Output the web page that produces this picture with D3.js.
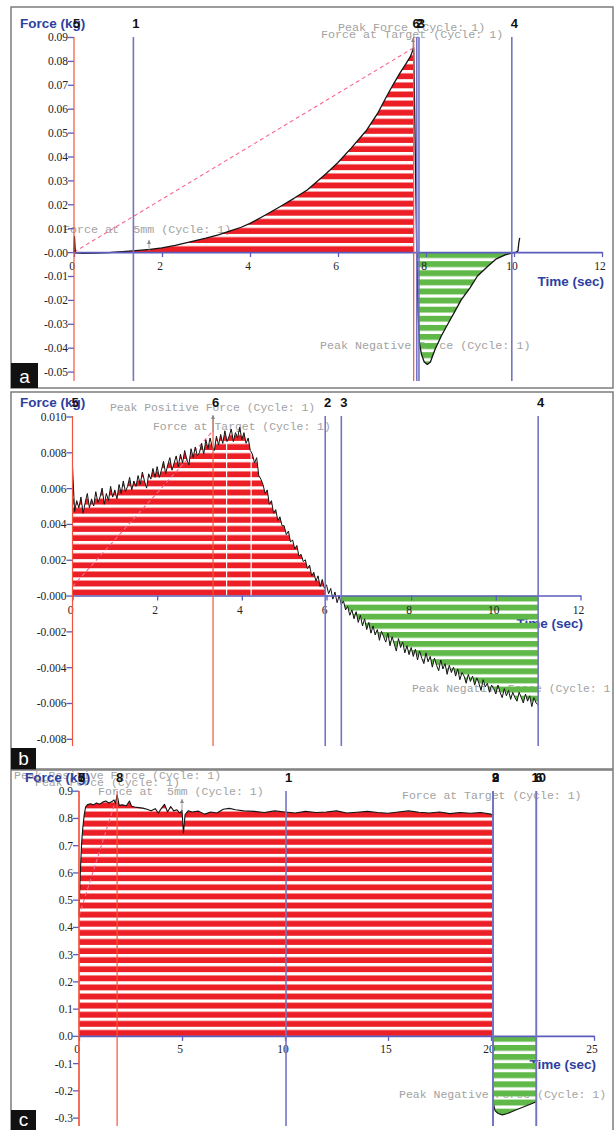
<!DOCTYPE html>
<html><head><meta charset="utf-8">
<script src="https://cdn.jsdelivr.net/npm/d3@7"></script>
<style>
html,body{margin:0;padding:0;background:#fff;}
svg{display:block;}
text.note{white-space:pre;}
</style></head>
<body>
<svg id="c" width="616" height="1130"></svg>
<script>
// ---------------- DATA ----------------
// Panel a
const aTime = [0, 0.01, 0.03, 0.2, 0.5, 0.8, 1.1, 1.4, 1.73, 2.0, 2.3, 2.64, 3.0, 3.3, 3.55, 3.8, 4.0, 4.3, 4.68, 5.0,
  5.3, 5.74, 6.0, 6.3, 6.65, 6.9, 7.1, 7.25, 7.41, 7.55, 7.65, 7.72, 7.75, 7.79, 7.82, 7.85, 7.9, 7.96, 8.03, 8.1,
  8.2, 8.35, 8.5, 8.65, 8.8, 9.0, 9.17, 9.4, 9.6, 9.8, 9.95, 10.05, 10.09, 10.11, 10.13];
const aForce = [0, 0.0065, -0.0003, -0.0005, -0.0004, -0.0002, 0.0002, 0.0006, 0.0011, 0.0018, 0.0028, 0.0043, 0.0058, 0.0073, 0.0089, 0.0104, 0.012, 0.015, 0.019, 0.0225,
  0.026, 0.033, 0.0375, 0.0435, 0.051, 0.058, 0.065, 0.070, 0.075, 0.079, 0.082, 0.0855, 0.05, 0.0, -0.025, -0.038, -0.043, -0.046, -0.047, -0.046,
  -0.041, -0.035, -0.030, -0.025, -0.020, -0.015, -0.010, -0.006, -0.0028, -0.0012, -0.0004, 0.0, 0.0005, 0.004, 0.006];
const aYTicks = [0.09, 0.08, 0.07, 0.06, 0.05, 0.04, 0.03, 0.02, 0.01, 0, -0.01, -0.02, -0.03, -0.04, -0.05];
const aYLabels = ["0.09", "0.08", "0.07", "0.06", "0.05", "0.04", "0.03", "0.02", "0.01", "-0.00", "-0.01", "-0.02", "-0.03", "-0.04", "-0.05"];
const aXTicks = [0, 2, 4, 6, 8, 10, 12];
const aXLabels = ["0", "2", "4", "6", "8", "10", "12"];
const aCursorTimes = [0, 1.35, 7.72, 7.79, 7.84, 9.95];
const aCursorLabels = ["5", "1", "6", "2", "3", "4"];
const aCursorKinds = ["start", "cursor", "peak", "cursor", "cursor", "cursor"];

// Panel b (sampled every 0.05 s from 0 to 11.0 s)
const bTime = d3.range(221).map(i => +(i * 0.05).toFixed(2));
const bForce = [
  0.0072, 0.0047, 0.0053, 0.0049, 0.0055, 0.0046, 0.0052, 0.0057, 0.0049, 0.0054,
  0.0050, 0.0058, 0.0052, 0.0055, 0.0060, 0.0051, 0.0057, 0.0053, 0.0061, 0.0055,
  0.0059, 0.0054, 0.0062, 0.0057, 0.0064, 0.0058, 0.0061, 0.0066, 0.0059, 0.0064,
  0.0061, 0.0067, 0.0062, 0.0069, 0.0064, 0.0060, 0.0068, 0.0065, 0.0071, 0.0066,
  0.0072, 0.0066, 0.0070, 0.0075, 0.0068, 0.0073, 0.0077, 0.0070, 0.0074, 0.0078,
  0.0072, 0.0079, 0.0074, 0.0081, 0.0076, 0.0073, 0.0082, 0.0077, 0.0083, 0.0078,
  0.0080, 0.0085, 0.0079, 0.0087, 0.0082, 0.0088, 0.0083, 0.0081, 0.0089, 0.0084,
  0.0090, 0.0085, 0.0092, 0.0086, 0.0089, 0.0093, 0.0086, 0.0091, 0.0088, 0.0094,
  0.0087, 0.0091, 0.0085, 0.0088, 0.0081, 0.0079, 0.0074, 0.0077, 0.0067, 0.0065,
  0.0062, 0.0057, 0.0059, 0.0051, 0.0053, 0.0046, 0.0048, 0.0042, 0.0044, 0.0039,
  0.0039, 0.0034, 0.0036, 0.0030, 0.0031, 0.0026, 0.0028, 0.0022, 0.0023, 0.0019,
  0.0020, 0.0015, 0.0017, 0.0011, 0.0013, 0.0008, 0.0011, 0.0005, 0.0009, 0.0004,
  0.0006, 0.0001, 0.0004, -0.0002, 0.0002, -0.0004, 0.0000, -0.0005, -0.0003, -0.0008,
  -0.0006, -0.0011, -0.0008, -0.0013, -0.0009, -0.0015, -0.0011, -0.0017, -0.0013, -0.0019,
  -0.0015, -0.0021, -0.0017, -0.0022, -0.0019, -0.0025, -0.0020, -0.0023, -0.0026, -0.0021,
  -0.0028, -0.0023, -0.0027, -0.0031, -0.0024, -0.0029, -0.0026, -0.0032, -0.0028, -0.0033,
  -0.0029, -0.0034, -0.0030, -0.0036, -0.0031, -0.0035, -0.0038, -0.0032, -0.0037, -0.0034,
  -0.0040, -0.0035, -0.0039, -0.0042, -0.0036, -0.0041, -0.0038, -0.0044, -0.0039, -0.0043,
  -0.0040, -0.0045, -0.0041, -0.0047, -0.0043, -0.0045, -0.0049, -0.0044, -0.0048, -0.0045,
  -0.0050, -0.0046, -0.0049, -0.0053, -0.0047, -0.0051, -0.0049, -0.0054, -0.0050, -0.0052,
  -0.0055, -0.0050, -0.0054, -0.0057, -0.0052, -0.0056, -0.0053, -0.0058, -0.0054, -0.0057,
  -0.0059, -0.0054, -0.0057, -0.0060, -0.0055, -0.0059, -0.0056, -0.0062, -0.0057, -0.0060,
  -0.0061];
const bYTicks = [0.010, 0.008, 0.006, 0.004, 0.002, 0, -0.002, -0.004, -0.006, -0.008];
const bYLabels = ["0.010", "0.008", "0.006", "0.004", "0.002", "-0.000", "-0.002", "-0.004", "-0.006", "-0.008"];
const bXTicks = [0, 2, 4, 6, 8, 10, 12];
const bXLabels = ["0", "2", "4", "6", "8", "10", "12"];
const bCursorTimes = [0, 3.32, 5.97, 6.35, 11.0];
const bCursorLabels = ["5", "6", "2", "3", "4"];
const bCursorKinds = ["start", "peak", "cursor", "cursor", "cursor"];
const bTargetTimes = [3.64, 4.22];

// Panel c
const cTime = [0, 0.04, 0.08, 0.13, 0.18, 0.25, 0.32, 0.4, 0.55, 0.7, 0.85, 1.0, 1.15, 1.3, 1.45, 1.6, 1.7, 1.78, 1.85, 1.95,
  2.1, 2.3, 2.45, 2.55, 2.7, 2.9, 3.1, 3.3, 3.5, 3.7, 3.85, 4.0, 4.15, 4.3, 4.45, 4.6, 4.75, 4.9, 5.0, 5.07,
  5.15, 5.3, 5.5, 5.8, 6.1, 6.4, 6.7, 7.0, 7.3, 7.6, 8.0, 8.5, 9.0, 9.5, 10.0, 10.5, 11.0, 11.5, 12.0, 12.5,
  13.0, 13.5, 14.0, 14.5, 15.0, 15.5, 16.0, 16.5, 17.0, 17.5, 18.0, 18.5, 19.0, 19.5, 20.0, 20.1, 20.12, 20.2, 20.35, 20.55,
  20.8, 21.2, 21.6, 22.0, 22.2];
const cForce = [0.44, 0.55, 0.63, 0.71, 0.76, 0.81, 0.84, 0.848, 0.852, 0.848, 0.855, 0.85, 0.858, 0.862, 0.855, 0.86, 0.866, 0.852, 0.885, 0.846,
  0.848, 0.845, 0.862, 0.843, 0.84, 0.838, 0.836, 0.832, 0.826, 0.834, 0.818, 0.835, 0.85, 0.822, 0.842, 0.826, 0.83, 0.818, 0.828, 0.745,
  0.812, 0.826, 0.822, 0.825, 0.814, 0.822, 0.818, 0.832, 0.835, 0.83, 0.826, 0.824, 0.82, 0.826, 0.822, 0.818, 0.824, 0.82, 0.822, 0.826,
  0.818, 0.821, 0.824, 0.82, 0.817, 0.822, 0.826, 0.821, 0.818, 0.822, 0.816, 0.82, 0.817, 0.82, 0.814, 0.81, -0.25, -0.275, -0.285, -0.29,
  -0.285, -0.272, -0.26, -0.248, -0.242];
const cYTicks = [0.9, 0.8, 0.7, 0.6, 0.5, 0.4, 0.3, 0.2, 0.1, 0, -0.1, -0.2, -0.3];
const cYLabels = ["0.9", "0.8", "0.7", "0.6", "0.5", "0.4", "0.3", "0.2", "0.1", "0.0", "-0.1", "-0.2", "-0.3"];
const cXTicks = [0, 5, 10, 15, 20, 25];
const cXLabels = ["0", "5", "10", "15", "20", "25"];
const cCursorTimes = [0, 0, 1.85, 10.05, 20.1, 20.1, 20.1, 22.2, 22.2];
const cCursorLabels = ["5", "7", "8", "1", "2", "3", "9", "6", "10"];
const cCursorKinds = ["start", "start", "peak", "cursor", "cursor", "cursor", "cursor", "cursor", "cursor"];

// ---------------- STYLE ----------------
const PERIOD = 9.1, BAND = 5.9;
const RED_FILL = '#ed1f26', GREEN_FILL = '#5fb848', BLUE_LINE = '#7474c3', RED_LINE = '#f1553d',
  AXIS_BLUE = '#5c5cbe', TITLE_BLUE = '#2d3f9f', NOTE_GRAY = '#a2a2a2', PINK = '#f36a8e';

const svg = d3.select('#c');
const defs = svg.append('defs');

function makePattern(id, color, y0, above) {
  const p = defs.append('pattern').attr('id', id).attr('patternUnits', 'userSpaceOnUse')
    .attr('x', 0).attr('y', y0).attr('width', 20).attr('height', PERIOD);
  p.append('rect').attr('y', above ? PERIOD - BAND : 0).attr('width', 20).attr('height', BAND).attr('fill', color);
}

function arrow(g, x, yTip, yTail) {
  g.append('line').attr('x1', x).attr('x2', x).attr('y1', yTail).attr('y2', yTip)
    .attr('stroke', '#888').attr('stroke-width', 0.8);
  const d = yTip < yTail ? 1 : -1;
  g.append('path').attr('d', `M${x},${yTip} L${x - 2},${yTip + 4 * d} L${x + 2},${yTip + 4 * d} Z`).attr('fill', '#888');
}

function drawPanel(c) {
  const [bx0, by0, bx1, by1] = c.box;
  const clipId = 'clip-' + c.id;
  defs.append('clipPath').attr('id', clipId).append('rect')
    .attr('x', bx0).attr('y', by0).attr('width', bx1 - bx0).attr('height', by1 - by0);
  const root = svg.append('g');
  const g = root.append('g').attr('clip-path', `url(#${clipId})`);
  const x = c.x, y = c.y, y0 = y(0);
  const pts = c.time.map((t, i) => ({ t, f: c.force[i] }));

  // notes (drawn beneath the data)
  c.notes.forEach(n => {
    g.append('text').attr('class', 'note').attr('xml:space', 'preserve').attr('x', n.x).attr('y', n.y).text(n.text)
      .attr('font-family', "'Liberation Mono', 'DejaVu Sans Mono', monospace")
      .attr('font-size', c.noteSize).attr('fill', NOTE_GRAY);
  });
  // time label
  g.append('text').attr('x', c.timePos[0]).attr('y', c.timePos[1]).attr('text-anchor', 'end')
    .text('Time (sec)').attr('font-family', "'Liberation Sans', Arial, sans-serif")
    .attr('font-weight', 'bold').attr('font-size', 13.5).attr('fill', TITLE_BLUE);

  // fills (striped)
  makePattern('rp-' + c.id, RED_FILL, y0, true);
  makePattern('gp-' + c.id, GREEN_FILL, y0, false);
  const rc = 'rc-' + c.id, gc = 'gc-' + c.id;
  defs.append('clipPath').attr('id', rc).append('rect')
    .attr('x', x(c.red[0])).attr('width', x(c.red[1]) - x(c.red[0])).attr('y', by0).attr('height', by1 - by0);
  defs.append('clipPath').attr('id', gc).append('rect')
    .attr('x', x(c.green[0])).attr('width', x(c.green[1]) - x(c.green[0])).attr('y', by0).attr('height', by1 - by0);
  g.append('g').attr('clip-path', `url(#${rc})`).append('path').datum(pts)
    .attr('d', d3.area().x(d => x(d.t)).y0(y0).y1(d => y(Math.max(0, d.f))))
    .attr('fill', `url(#rp-${c.id})`);
  g.append('g').attr('clip-path', `url(#${gc})`).append('path').datum(pts)
    .attr('d', d3.area().x(d => x(d.t)).y0(y0).y1(d => y(Math.min(0, d.f))))
    .attr('fill', `url(#gp-${c.id})`);

  // target marks (white lines inside fill)
  (c.targets || []).forEach(t => {
    g.append('line').attr('x1', x(t)).attr('x2', x(t)).attr('y1', y0).attr('y2', y(c.targetTop))
      .attr('stroke', '#fff').attr('stroke-width', 1.2);
  });

  // pink dashed line
  g.append('line').attr('x1', x(c.pink[0])).attr('y1', y(c.pink[1])).attr('x2', x(c.pink[2])).attr('y2', y(c.pink[3]))
    .attr('stroke', PINK).attr('stroke-width', 1.1).attr('stroke-dasharray', '4,3');

  // data curve
  g.append('path').datum(pts).attr('d', d3.line().x(d => x(d.t)).y(d => y(d.f)))
    .attr('fill', 'none').attr('stroke', '#141414').attr('stroke-width', c.curveWidth).attr('stroke-linejoin', 'round');

  // x axis
  const xa = g.append('g').attr('transform', `translate(0,${y0})`)
    .call(d3.axisBottom(x).tickValues(c.xTicks).tickFormat((d, i) => c.xLabels[i]).tickSize(5).tickSizeOuter(0));
  xa.select('.domain').attr('stroke', AXIS_BLUE).attr('stroke-width', 1.6);
  xa.selectAll('.tick line').attr('stroke', AXIS_BLUE).attr('stroke-width', 1.3);
  xa.selectAll('.tick text').attr('y', c.xLabelDy).attr('dy', 0).attr('dx', -2.5)
    .attr('font-family', "'Liberation Serif', 'Times New Roman', serif").attr('font-size', 11.5).attr('fill', '#222');

  // y axis
  const ya = g.append('g').attr('transform', `translate(${x(0)},0)`)
    .call(d3.axisLeft(y).tickValues(c.yTicks).tickFormat((d, i) => c.yLabels[i]).tickSize(6).tickSizeOuter(0));
  ya.select('.domain').remove();
  ya.selectAll('.tick line').attr('stroke', AXIS_BLUE).attr('stroke-width', 1.3);
  ya.selectAll('.tick text').attr('x', -6).attr('dy', '0.34em')
    .attr('font-family', "'Liberation Serif', 'Times New Roman', serif").attr('font-size', 11.5).attr('fill', '#222');

  // cursor lines
  c.cursors.times.forEach((t, i) => {
    const red = c.cursors.kinds[i] !== 'cursor';
    g.append('line').attr('x1', x(t)).attr('x2', x(t)).attr('y1', c.lineTop).attr('y2', c.lineBottom)
      .attr('stroke', red ? RED_LINE : BLUE_LINE).attr('stroke-width', red ? 1.2 : 1.6);
  });

  (c.arrows || []).forEach(a => arrow(g, a[0], a[1], a[2]));

  // title
  g.append('text').attr('x', c.titlePos[0]).attr('y', c.titlePos[1]).text('Force (kg)')
    .attr('font-family', "'Liberation Sans', Arial, sans-serif").attr('font-weight', 'bold')
    .attr('font-size', 13.5).attr('fill', TITLE_BLUE);

  // cursor labels
  c.cursors.times.forEach((t, i) => {
    g.append('text').attr('x', x(t) + 2.5).attr('y', c.labelY).attr('text-anchor', 'middle')
      .text(c.cursors.labels[i]).attr('font-family', "'Liberation Sans', Arial, sans-serif")
      .attr('font-weight', 'bold').attr('font-size', 13).attr('fill', '#111');
  });

  // border
  root.append('rect').attr('x', bx0).attr('y', by0).attr('width', bx1 - bx0).attr('height', by1 - by0)
    .attr('fill', 'none').attr('stroke', '#7c7c7c').attr('stroke-width', 1.5);
  // panel letter
  const lb = c.letterBox;
  root.append('rect').attr('x', lb[0]).attr('y', lb[1]).attr('width', lb[2]).attr('height', lb[3]).attr('fill', '#111');
  root.append('text').attr('x', lb[0] + lb[2] / 2).attr('y', lb[1] + lb[3] - 5).attr('text-anchor', 'middle')
    .text(c.letter).attr('font-family', "'Liberation Sans', Arial, sans-serif").attr('font-size', 19).attr('fill', '#fff');
}

// ---------------- PANELS ----------------
drawPanel({
  id: 'a', box: [11, 7, 613, 388], letter: 'a', letterBox: [11, 363, 27, 25],
  x: d3.scaleLinear().domain([0, 12]).range([74, 602]),
  y: d3.scaleLinear().domain([-0.05, 0.09]).range([371.6, 37]),
  time: aTime, force: aForce, red: [0, 7.72], green: [0, 10.1], curveWidth: 1.3,
  xTicks: aXTicks, xLabels: aXLabels, yTicks: aYTicks, yLabels: aYLabels, xLabelDy: 18,
  cursors: { times: aCursorTimes, labels: aCursorLabels, kinds: aCursorKinds },
  lineTop: 37, lineBottom: 381, labelY: 28,
  pink: [0, 0, 7.72, 0.0855],
  titlePos: [20, 28], timePos: [604, 286], noteSize: 11.7,
  notes: [
    { text: 'Peak Force (Cycle: 1)', x: 338, y: 31 },
    { text: 'Force at Target (Cycle: 1)', x: 321, y: 37.5 },
    { text: 'Force at  5mm (Cycle: 1)', x: 63, y: 233 },
    { text: 'Peak Negative Force (Cycle: 1)', x: 320, y: 349 }
  ],
  arrows: [[149, 240, 251], [413, 38, 50]]
});

drawPanel({
  id: 'b', box: [11, 392, 613, 769], letter: 'b', letterBox: [11, 748, 25, 22],
  x: d3.scaleLinear().domain([0, 12]).range([72.5, 580.5]),
  y: d3.scaleLinear().domain([-0.008, 0.010]).range([738.8, 416.5]),
  time: bTime, force: bForce, red: [0, 5.97], green: [6.35, 11.0], curveWidth: 1.0,
  targets: bTargetTimes, targetTop: 0.0086,
  xTicks: bXTicks, xLabels: bXLabels, yTicks: bYTicks, yLabels: bYLabels, xLabelDy: 18,
  cursors: { times: bCursorTimes, labels: bCursorLabels, kinds: bCursorKinds },
  lineTop: 416, lineBottom: 746, labelY: 407,
  pink: [0, 0.0005, 3.32, 0.0092],
  titlePos: [20, 407], timePos: [583, 628], noteSize: 11.4,
  notes: [
    { text: 'Peak Positive Force (Cycle: 1)', x: 110, y: 411 },
    { text: 'Force at Target (Cycle: 1)', x: 153, y: 430 },
    { text: 'Peak Negative Force (Cycle: 1)', x: 412, y: 692 }
  ],
  arrows: [[213, 415, 432]]
});

drawPanel({
  id: 'c', box: [11, 770, 613, 1131], letter: 'c', letterBox: [11, 1110, 25, 21],
  x: d3.scaleLinear().domain([0, 25]).range([79, 594]),
  y: d3.scaleLinear().domain([-0.3, 0.9]).range([1117.6, 790.7]),
  time: cTime, force: cForce, red: [0, 20.1], green: [20.1, 22.2], curveWidth: 1.1,
  xTicks: cXTicks, xLabels: cXLabels, yTicks: cYTicks, yLabels: cYLabels, xLabelDy: 17,
  cursors: { times: cCursorTimes, labels: cCursorLabels, kinds: cCursorKinds },
  lineTop: 791, lineBottom: 1126, labelY: 782,
  pink: [0, 0.44, 1.85, 0.88],
  titlePos: [25, 782], timePos: [596, 1069], noteSize: 11.5,
  notes: [
    { text: 'Peak Positive Force (Cycle: 1)', x: 14, y: 779 },
    { text: 'Peak Force (Cycle: 1)', x: 35, y: 786 },
    { text: 'Force at  5mm (Cycle: 1)', x: 98, y: 795 },
    { text: 'Force at Target (Cycle: 1)', x: 402, y: 799 },
    { text: 'Peak Negative Force (Cycle: 1)', x: 399, y: 1098 }
  ],
  arrows: [[182, 799, 812]]
});
</script>
</body></html>
